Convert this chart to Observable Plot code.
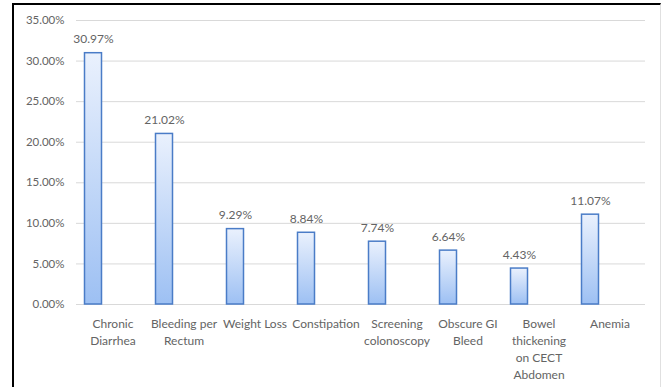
<!DOCTYPE html>
<html>
<head>
<meta charset="utf-8">
<script src="https://cdn.jsdelivr.net/npm/d3@7"></script>
<script src="https://cdn.jsdelivr.net/npm/@observablehq/plot@0.6"></script>
<style>
  html, body { margin: 0; padding: 0; background: #fff; }
  #wrap { position: relative; width: 662px; height: 387px; overflow: hidden; }
  #border { position: absolute; left: 12px; top: 3px; width: 646px; height: 400px;
            border-left: 2px solid #000; border-top: 2px solid #000; border-right: 1px solid #e0e0e0; pointer-events: none; }
</style>
</head>
<body>
<div id="wrap"><div id="chart"></div><div id="border"></div></div>
<script>
const categories = ["Chronic Diarrhea", "Bleeding per Rectum", "Weight Loss", "Constipation",
  "Screening colonoscopy", "Obscure GI Bleed", "Bowel thickening on CECT Abdomen", "Anemia"];
const tickLabels = ["Chronic\nDiarrhea", "Bleeding per\nRectum", "Weight Loss", "Constipation",
  "Screening\ncolonoscopy", "Obscure GI\nBleed", "Bowel\nthickening\non CECT\nAbdomen", "Anemia"];
const values = [30.97, 21.02, 9.29, 8.84, 7.74, 6.64, 4.43, 11.07];
const yTicks = [0, 5, 10, 15, 20, 25, 30, 35];

const data = categories.map((c, i) => ({category: c, value: values[i]}));
const labelOf = new Map(categories.map((c, i) => [c, tickLabels[i]]));

const defs = () => {
  const ns = "http://www.w3.org/2000/svg";
  const d = document.createElementNS(ns, "defs");
  const g = document.createElementNS(ns, "linearGradient");
  g.setAttribute("id", "barGrad");
  g.setAttribute("x1", "0"); g.setAttribute("y1", "0");
  g.setAttribute("x2", "0"); g.setAttribute("y2", "1");
  [["0%", "#eaf1fd"], ["100%", "#9dc0f3"]].forEach(([o, c]) => {
    const s = document.createElementNS(ns, "stop");
    s.setAttribute("offset", o); s.setAttribute("stop-color", c);
    g.appendChild(s);
  });
  d.appendChild(g);
  return d;
};

const font = "Lato, 'Open Sans', sans-serif";
const textColor = "#646464";

const chart = Plot.plot({
  width: 662,
  height: 387,
  marginTop: 20,
  marginBottom: 83,
  marginLeft: 76,
  marginRight: 17,
  style: {fontFamily: font, background: "#fff", color: textColor},
  x: {domain: categories, padding: 0, axis: null},
  y: {domain: [0, 35], axis: null},
  marks: [
    defs,
    Plot.ruleY(yTicks, {stroke: "#d9d9d9", strokeWidth: 1}),
    Plot.axisY({ticks: yTicks, tickSize: 0, tickPadding: 12, fontSize: 11.5, label: null,
      tickFormat: d => d.toFixed(2) + "%", fill: textColor}),
    Plot.axisX({tickSize: 0, tickPadding: 11, fontSize: 12, lineHeight: 1.42, label: null,
      tickFormat: d => labelOf.get(d), fill: textColor}),
    Plot.barY(data, {x: "category", y: "value", insetLeft: 27, insetRight: 27, dx: -19.5,
      fill: "url(#barGrad)", stroke: "#4a7cc7", strokeWidth: 1.5}),
    Plot.text(data, {x: "category", y: "value", dx: -19.5, dy: -10, lineAnchor: "bottom",
      text: d => d.value.toFixed(2) + "%", fontSize: 12, fill: textColor})
  ]
});
document.getElementById("chart").appendChild(chart);
</script>
</body>
</html>
